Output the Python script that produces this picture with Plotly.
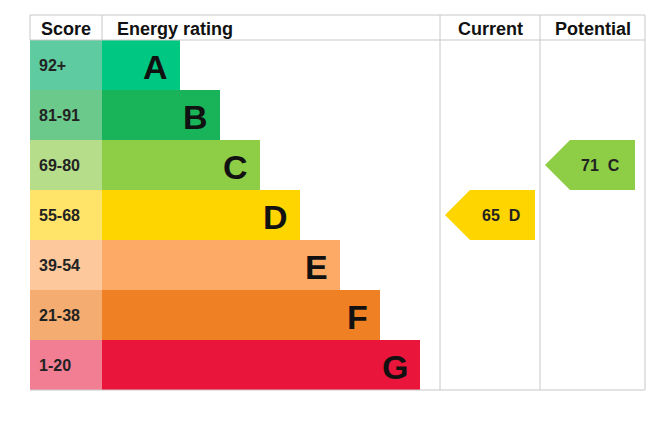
import plotly.graph_objects as go

# data
letters = ["A", "B", "C", "D", "E", "F", "G"]
scores = ["92+", "81-91", "69-80", "55-68", "39-54", "21-38", "1-20"]
bar_colors = ["#00c781", "#19b459", "#8dce46", "#ffd500", "#fcaa65", "#ef8023", "#e9153b"]
score_colors = ["#5fcba0", "#6cc98c", "#b5dd8a", "#ffe469", "#fdc89c", "#f4ac70", "#f27e94"]
current = 65
current_letter = "D"
potential = 71
potential_letter = "C"

W, H = 667, 427
OFF = 8  # page body margin
left, top, head_h, row_h = 30, 15, 25, 50
score_w = 72
bar0, bar_step = 78, 40
col_cur, col_pot, right = 440, 540, 645
grid = "#c8c8c8"
FONT = "Liberation Sans, Arial, sans-serif"

shapes, annotations = [], []

def row_y(i):
    y0 = top + head_h + i * row_h
    return y0, y0 + row_h

for i, (L, s) in enumerate(zip(letters, scores)):
    y0, y1 = row_y(i)
    x_end = left + score_w + bar0 + i * bar_step
    shapes.append(dict(type="rect", x0=left, x1=left + score_w, y0=y0, y1=y1,
                       fillcolor=score_colors[i], line_width=0, layer="below"))
    shapes.append(dict(type="rect", x0=left + score_w, x1=x_end, y0=y0, y1=y1,
                       fillcolor=bar_colors[i], line_width=0, layer="below"))
    annotations.append(dict(x=left + 7, y=(y0 + y1) / 2, text="<b>%s</b>" % s, showarrow=False,
                            xanchor="left", font=dict(family=FONT, size=16, color="#222")))
    annotations.append(dict(x=x_end - 10, y=(y0 + y1) / 2 + 2, text="<b>%s</b>" % L, showarrow=False,
                            xanchor="right", font=dict(family=FONT, size=34, color="#111")))

bottom = top + head_h + 7 * row_h
for y in (top, top + head_h, bottom):
    shapes.append(dict(type="line", x0=left, x1=right, y0=y, y1=y, line=dict(color=grid, width=1)))
for x in (col_cur, col_pot, right):
    shapes.append(dict(type="line", x0=x, x1=x, y0=top, y1=bottom, line=dict(color=grid, width=1)))
for x in (left, left + score_w):
    shapes.append(dict(type="line", x0=x, x1=x, y0=top, y1=top + head_h, line=dict(color=grid, width=1)))

for text, x in (("Score", left + 36), ("Energy rating", left + score_w + 13),
                ("Current", (col_cur + col_pot) / 2), ("Potential", (col_pot + right) / 2)):
    annotations.append(dict(x=x, y=top + head_h / 2 + 1, text="<b>%s</b>" % text, showarrow=False,
                            xanchor="left" if text == "Energy rating" else "center",
                            font=dict(family=FONT, size=18, color="#111")))


def band_of(v):
    bounds = [92, 81, 69, 55, 39, 21, 1]
    for i, b in enumerate(bounds):
        if v >= b:
            return i
    return 6

for val, let, x0 in ((current, current_letter, col_cur), (potential, potential_letter, col_pot)):
    i = band_of(val)
    y0, y1 = row_y(i)
    xa, xb, xc = x0 + 5, x0 + 30, x0 + 95
    shapes.append(dict(type="path",
                       path="M %d %d L %d %d L %d %d L %d %d L %d %d Z" % (xa, (y0 + y1) / 2, xb, y0, xc, y0, xc, y1, xb, y1),
                       fillcolor=bar_colors[i], line_width=0))
    annotations.append(dict(x=(xb + xc) / 2 - 2, y=(y0 + y1) / 2, text="<b>%d  %s</b>" % (val, let),
                            showarrow=False, font=dict(family=FONT, size=16, color="#222")))

fig = go.Figure()
fig.update_layout(width=W, height=H, margin=dict(l=0, r=0, t=0, b=0),
                  paper_bgcolor="white", plot_bgcolor="white",
                  shapes=shapes, annotations=annotations, showlegend=False)
fig.update_xaxes(range=[OFF, W + OFF], visible=False)
fig.update_yaxes(range=[H + OFF, OFF], visible=False)
fig.write_html("out.html")
